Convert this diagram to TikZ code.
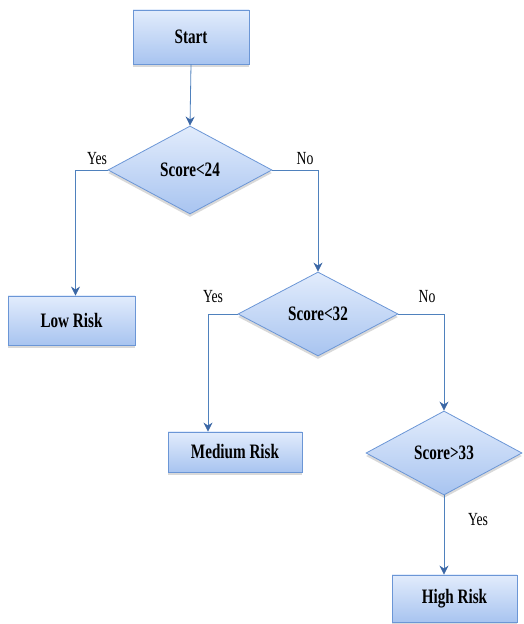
\documentclass[tikz,border=0pt]{standalone}
\usepackage{fontspec}
\setmainfont{Liberation Serif}[FakeStretch=0.74]
\usetikzlibrary{shapes.geometric,arrows.meta,shadows}
\definecolor{boxline}{HTML}{6B96D6}
\definecolor{flowline}{HTML}{4F81BD}
\definecolor{tipblue}{HTML}{3B67A5}
\definecolor{boxtop}{HTML}{E2ECFC}
\definecolor{boxbot}{HTML}{A8C4F0}
\begin{document}
\begin{tikzpicture}[x=1pt,y=1pt,
  stepbox/.style={draw=boxline,thick,top color=boxtop,bottom color=boxbot,inner sep=0pt,
    font=\fontsize{20.5}{24}\selectfont\bfseries,
    drop shadow={shadow xshift=0pt,shadow yshift=-3pt,opacity=.3}},
  decision/.style={stepbox,diamond},
  flow/.style={draw=flowline,thick,-{Stealth[length=9pt,width=9pt,color=tipblue]}},
  answer/.style={draw=none,font=\fontsize{18.5}{22}\selectfont}]
\useasboundingbox (0,0) rectangle (523,624);

\node[stepbox,minimum width=116,minimum height=54](start)at(191,587){Start};
\node[decision,minimum width=164,minimum height=88](sc24)at(190,454){Score<24};
\node[stepbox,minimum width=127,minimum height=49](low)at(71.5,303.5){Low Risk};
\node[decision,minimum width=160,minimum height=84](sc32)at(318,310){Score<32};
\node[stepbox,minimum width=134,minimum height=40](medium)at(235,172){Medium Risk};
\node[decision,minimum width=156,minimum height=84](sc33)at(444,171){Score>33};
\node[stepbox,minimum width=125,minimum height=47](high)at(454.5,25.5){High Risk};

\draw[flow](start.south)--(sc24.north);
\draw[flow](sc24.west)-|([xshift=4pt]low.north);
\draw[flow](sc24.east)-|(sc32.north);
\draw[flow](sc32.west)-|([xshift=-27pt]medium.north);
\draw[flow](sc32.east)-|(sc33.north);
\draw[flow](sc33.south)--(sc33.south|-high.north);

\node[answer](y1)at(97,465){Yes};
\node[answer](n1)at(305,465){No};
\node[answer](y2)at(213,327){Yes};
\node[answer](n2)at(427,327){No};
\node[answer](y3)at(478,104){Yes};

\end{tikzpicture}
\end{document}
